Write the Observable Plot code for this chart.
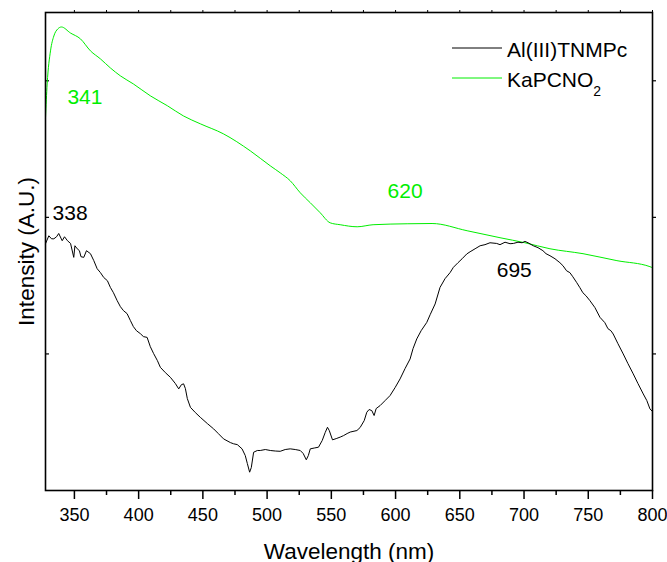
<!DOCTYPE html>
<html>
<head>
<meta charset="utf-8">
<script src="https://cdn.jsdelivr.net/npm/d3@7"></script>
<script src="https://cdn.jsdelivr.net/npm/@observablehq/plot@0.6"></script>
<style>
  html, body { margin: 0; padding: 0; background: #fff; }
  #chart { width: 667px; height: 562px; overflow: hidden; }
</style>
</head>
<body>
<div id="chart"></div>
<script>
// ---- data (wavelength nm, intensity a.u.) ----
const seriesNames = ["Al(III)TNMPc", "KaPCNO2"];
const seriesColors = ["#000000", "#00ee00"];

const alWavelength = [327.5,330.1,332.2,334.0,336.1,337.8,340.5,342.3,344.6,347.0,349.5,350.4,352.2,353.9,355.1,357.3,359.4,362.5,365.1,367.7,370.3,372.8,375.7,378.0,380.4,383.3,385.8,388.2,391.0,393.6,395.9,398.3,401.4,403.7,406.6,409.1,411.7,414.6,416.9,420.8,424.7,428.6,431.2,433.3,435.0,436.4,437.9,440.3,444.1,448.0,453.5,458.4,462.0,466.1,471.4,473.9,476.8,480.5,483.0,484.6,486.4,487.7,489.5,492.4,494.7,498.6,502.5,506.4,510.2,514.1,518.0,521.9,525.8,528.1,530.5,532.1,533.6,536.7,540.0,542.9,545.2,547.0,548.4,550.9,553.8,556.9,559.5,562.3,564.7,569.9,572.4,575.6,577.6,579.4,581.5,583.3,584.9,588.0,591.8,595.7,599.6,603.5,607.4,611.3,613.6,616.5,619.9,624.3,626.9,630.8,634.6,638.5,642.4,645.0,648.6,651.8,655.4,658.0,661.9,665.8,669.6,673.5,678.7,681.3,685.2,689.1,691.7,695.3,698.5,700.7,703.1,707.2,710.9,714.7,717.1,720.2,724.1,727.9,730.3,733.1,735.7,738.0,740.9,743.5,745.8,748.2,751.3,755.2,759.1,762.9,765.3,767.6,769.4,773.1,777.2,780.9,785.0,788.7,792.8,795.6,798.0,800.0];
const alIntensity = [1.807,1.865,1.843,1.843,1.858,1.882,1.829,1.858,1.829,1.809,1.707,1.792,1.770,1.756,1.712,1.707,1.756,1.734,1.683,1.624,1.595,1.560,1.536,1.487,1.448,1.390,1.346,1.317,1.295,1.244,1.200,1.170,1.148,1.127,1.121,1.053,1.002,0.951,0.902,0.863,0.829,0.783,0.744,0.775,0.781,0.746,0.673,0.609,0.571,0.536,0.490,0.451,0.417,0.378,0.351,0.342,0.336,0.305,0.256,0.198,0.134,0.168,0.280,0.293,0.293,0.300,0.293,0.289,0.287,0.300,0.305,0.300,0.293,0.271,0.225,0.256,0.305,0.311,0.317,0.366,0.424,0.463,0.439,0.371,0.380,0.391,0.402,0.417,0.428,0.439,0.461,0.512,0.573,0.593,0.585,0.549,0.600,0.622,0.658,0.695,0.753,0.817,0.893,0.963,1.039,1.110,1.170,1.231,1.287,1.366,1.487,1.551,1.595,1.634,1.668,1.697,1.732,1.748,1.770,1.792,1.800,1.814,1.809,1.800,1.818,1.807,1.809,1.818,1.814,1.824,1.814,1.792,1.778,1.756,1.734,1.719,1.697,1.668,1.646,1.609,1.595,1.565,1.524,1.485,1.448,1.426,1.390,1.339,1.268,1.229,1.185,1.170,1.146,1.075,1.000,0.929,0.854,0.783,0.707,0.658,0.598,0.578];

const kaWavelength = [327.5,328.8,331.4,334.0,337.1,339.9,346.9,354.7,362.5,370.3,378.0,385.8,395.9,409.1,422.4,434.8,448.0,465.9,486.9,502.5,510.2,518.0,525.8,533.6,541.3,549.1,556.9,570.1,582.5,609.0,628.4,655.7,681.3,700.7,720.2,745.9,772.3,798.0,800.0];
const kaIntensity = [2.729,2.977,3.219,3.328,3.380,3.394,3.350,3.307,3.219,3.160,3.094,3.036,2.977,2.890,2.817,2.743,2.685,2.612,2.487,2.377,2.326,2.268,2.180,2.107,2.034,1.960,1.946,1.931,1.946,1.953,1.955,1.902,1.851,1.814,1.770,1.734,1.683,1.639,1.631];

// peak annotations
const peakLabels = ["341", "338", "620", "695"];
const peakSeries = [1, 0, 1, 0];
const peakX = [358.2, 346.6, 607.4, 692.4];
const peakY = [2.831, 1.982, 2.143, 1.560];

const xMajorTicks = [350, 400, 450, 500, 550, 600, 650, 700, 750, 800];
const xMinorTicks = [375, 425, 475, 525, 575, 625, 675, 725, 775];
const yTicks = [1, 2, 3];

// ---- build tables ----
const alData = alWavelength.map((w, i) => ({w, v: alIntensity[i]}));
const kaData = kaWavelength.map((w, i) => ({w, v: kaIntensity[i]}));
const peaks = peakLabels.map((t, i) => ({t, x: peakX[i], y: peakY[i], c: seriesColors[peakSeries[i]]}));

const font = "'Liberation Sans', Arial, Helvetica, sans-serif";

const chart = Plot.plot({
  width: 667,
  height: 562,
  marginLeft: 45,
  marginRight: 15,
  marginTop: 12,
  marginBottom: 72,
  style: {fontFamily: font, fontSize: "18px", color: "black", background: "white", overflow: "hidden"},
  x: {domain: [327.5, 800]},
  y: {domain: [0, 3.5]},
  marks: [
    Plot.axisX({ticks: xMajorTicks, tickSize: 9, tickPadding: 9, tickFormat: d => String(d), label: null, strokeWidth: 1.5}),
    Plot.axisX({ticks: xMinorTicks, tickSize: 5, text: null, label: null, strokeWidth: 1.5}),
    Plot.axisX({anchor: "top", ticks: xMajorTicks.concat(xMinorTicks), tickSize: 3, text: null, label: null}),
    Plot.axisY({ticks: yTicks, tickSize: -4, text: null, label: null, strokeWidth: 1.2}),
    Plot.axisY({anchor: "right", ticks: yTicks, tickSize: 3, text: null, label: null, strokeWidth: 1.2}),
    Plot.line(kaData, {x: "w", y: "v", stroke: seriesColors[1], strokeWidth: 1, curve: "monotone-x"}),
    Plot.line(alData, {x: "w", y: "v", stroke: seriesColors[0], strokeWidth: 1}),
    Plot.frame({stroke: "black", strokeWidth: 1.6}),
    Plot.text(peaks, {x: "x", y: "y", text: "t", fill: "c", fontSize: 21, textAnchor: "middle", lineAnchor: "bottom"}),
    Plot.text(["Wavelength (nm)"], {frameAnchor: "bottom", dy: 68, textAnchor: "middle", lineAnchor: "bottom", fontSize: 22.5, fill: "black"}),
    Plot.text(["Intensity (A.U.)"], {frameAnchor: "left", dx: -12, rotate: -90, textAnchor: "middle", lineAnchor: "bottom", fontSize: 22.5, fill: "black"})
  ]
});

// legend inside plot (top right)
const svg = d3.select(chart);
const lg = svg.append("g").attr("font-family", font).attr("font-size", 21).attr("text-anchor", "start");
const rows = [
  {name: "Al(III)TNMPc", sub: null, color: seriesColors[0], y: 48},
  {name: "KaPCNO", sub: "2", color: seriesColors[1], y: 78}
];
rows.forEach(r => {
  lg.append("line").attr("x1", 452).attr("x2", 502).attr("y1", r.y).attr("y2", r.y)
    .attr("stroke", r.color).attr("stroke-width", 1);
  const t = lg.append("text").attr("x", 507).attr("y", r.y + 9).attr("fill", "black").attr("text-anchor", "start");
  t.append("tspan").text(r.name);
  if (r.sub) t.append("tspan").attr("font-size", 14).attr("dy", 9).text(r.sub);
});

document.getElementById("chart").appendChild(chart);
</script>
</body>
</html>
